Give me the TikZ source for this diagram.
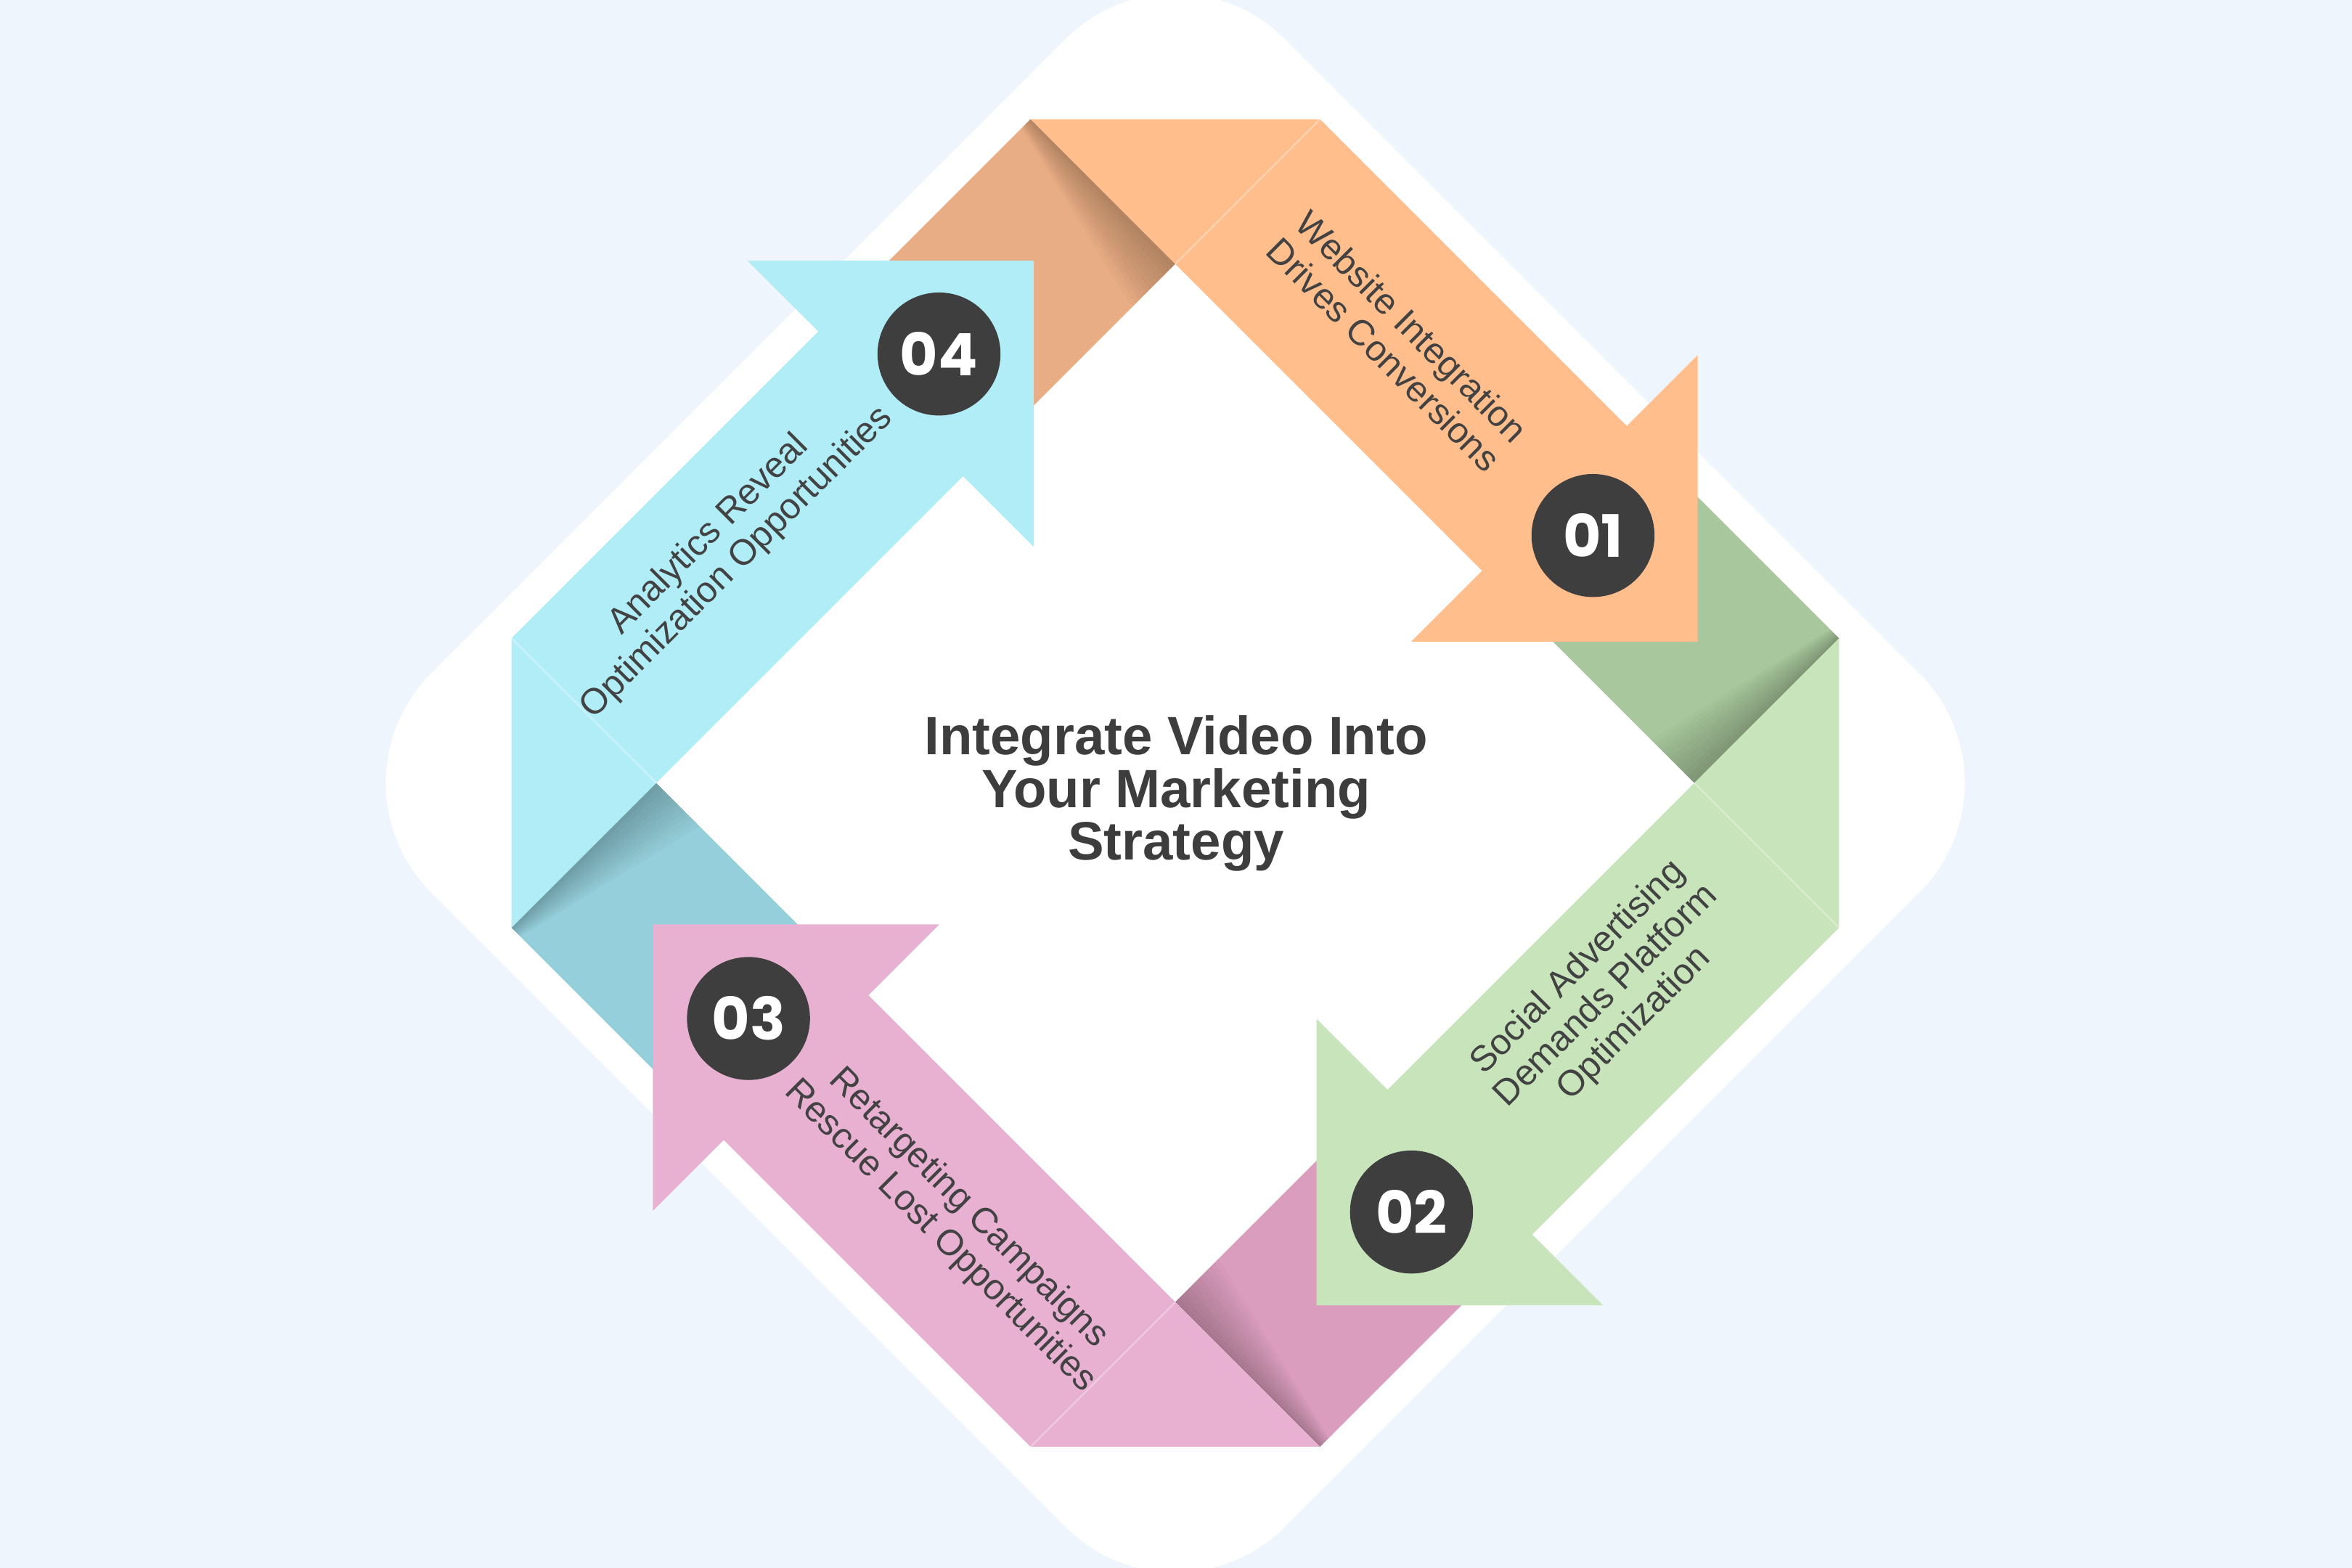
\documentclass[tikz,border=0pt]{standalone}
\usepackage{fontspec}
\setmainfont{Liberation Sans}
\newfontfamily\numfont{Poppins}
\definecolor{bg}{HTML}{EFF5FD}
\definecolor{orL}{HTML}{FFBE8C}
\definecolor{orD}{HTML}{E8AD84}
\definecolor{grL}{HTML}{C8E4BA}
\definecolor{grD}{HTML}{A9C79C}
\definecolor{piL}{HTML}{E8B1D2}
\definecolor{piD}{HTML}{DB9DBE}
\definecolor{cyL}{HTML}{B0EDF7}
\definecolor{cyD}{HTML}{94CFDB}
\definecolor{circ}{HTML}{3E3E3E}
\definecolor{txt}{HTML}{424242}
\definecolor{ttlc}{HTML}{3D3D3D}
\begin{document}
\begin{tikzpicture}[x=1pt,y=-1pt,
  numcirc/.style={circle, fill=circ, minimum size=82pt, inner sep=0pt, text=white,
    font=\numfont\bfseries\fontsize{39}{39}\selectfont},
  lbl/.style={align=center, text=txt, font=\fontsize{24}{26.5}\selectfont, inner sep=0pt},
  ttl/.style={align=center, text=ttlc, font=\bfseries\fontsize{36}{35.2}\selectfont, inner sep=0pt},
  foldline/.style={white, opacity=.35, line width=1pt}]
\useasboundingbox (0,0) rectangle (1568,1045.33);
\fill[bg] (0,0) rectangle (1568,1045.33);
% white rounded diamond
\fill[white, rounded corners=103pt] (499,237.5) -- (783.5,-47) -- (1352.5,522) -- (783.5,1091) -- (214.5,522) -- cycle;
% dark folds (back sides)
\foreach \ang/\dc in {0/orD,-90/grD,180/piD,90/cyD}{
  \begin{scope}[shift={(783.5,522)}, rotate=\ang]
    \fill[\dc] (-96.5,-442.5) -- (0,-346) -- (-141.5,-204.5) -- (-238,-301) -- cycle;
    \foreach \k in {1,...,12}{
      \fill[black, opacity=0.02] (-96.5,-442.5) -- (0,-346) -- ({-2.4*\k},{-346+2.4*\k}) -- ({-96.5-0.5*\k},{-442.5+0.5*\k}) -- cycle;
    }
  \end{scope}
}
% light ribbons with arrowheads
\foreach \ang/\lc in {0/orL,-90/grL,180/piL,90/cyL}{
  \begin{scope}[shift={(783.5,522)}, rotate=\ang]
    \fill[\lc] (-96.5,-442.5) -- (96.5,-442.5) -- (301,-238) -- (348.25,-285.25) -- (348.25,-94.25) -- (157.25,-94.25) -- (204.5,-141.5) -- cycle;
    \draw[foldline] (96.5,-442.5) -- (0,-346);
  \end{scope}
}
% labels
\node[lbl, rotate=-45] (l1) at (932,227) {Website Integration\\Drives Conversions};
\node[lbl, rotate=45] (l2) at (1071,664) {Social Advertising\\Demands Platform\\Optimization};
\node[lbl, rotate=-45] (l3) at (636,815) {Retargeting Campaigns\\Rescue Lost Opportunities};
\node[lbl, rotate=45] (l4) at (482,366) {Analytics Reveal\\Optimization Opportunities};
% number circles
\node[numcirc] (n1) at (1062,357) {01};
\node[numcirc] (n2) at (941,808) {02};
\node[numcirc] (n3) at (499,679) {03};
\node[numcirc] (n4) at (626,236) {04};
% title
\node[ttl] (title) at (784,529) {Integrate Video Into\\Your Marketing\\Strategy};
\end{tikzpicture}
\end{document}
